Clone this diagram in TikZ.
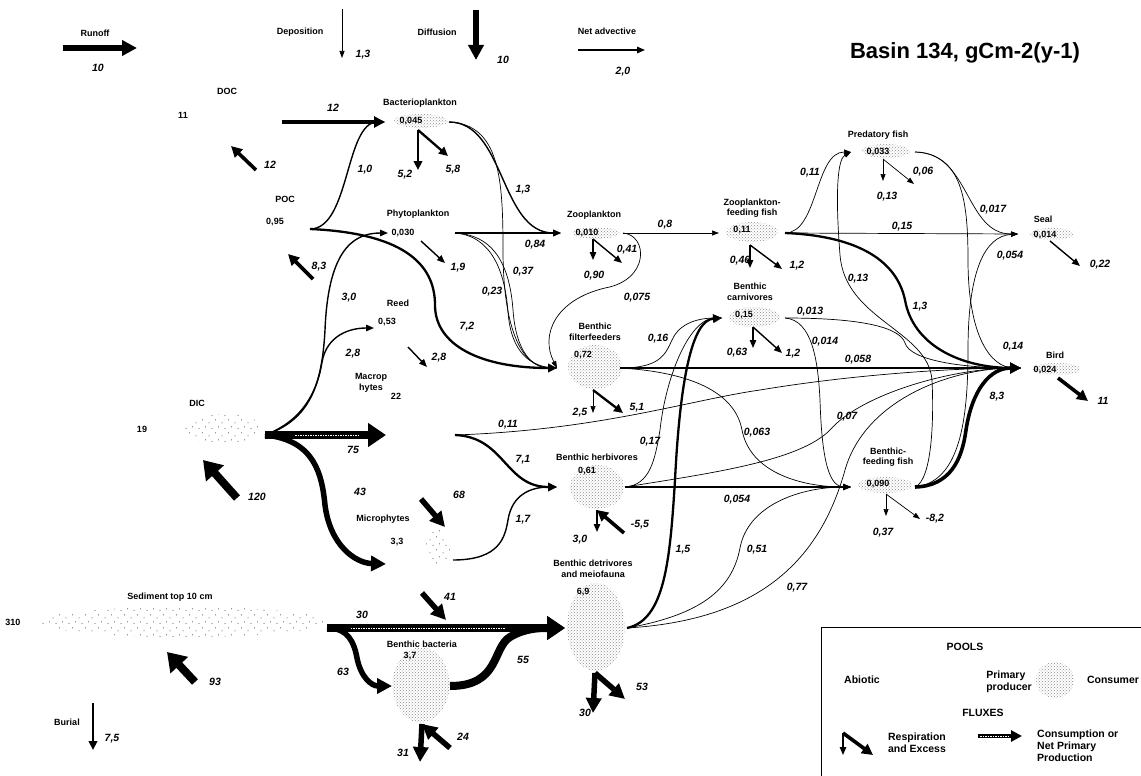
\documentclass[tikz,border=0pt]{standalone}
\usepackage{fontspec}
\setmainfont{Liberation Sans}
\usetikzlibrary{arrows.meta,shapes.geometric,patterns,calc}
\pgfdeclarepatternformonly{sparse dots}{\pgfqpoint{-1pt}{-1pt}}{\pgfqpoint{13pt}{13pt}}{\pgfqpoint{13pt}{13pt}}{%
  \pgfpathcircle{\pgfqpoint{1pt}{2pt}}{0.5pt}%
  \pgfpathcircle{\pgfqpoint{7.5pt}{5pt}}{0.5pt}%
  \pgfpathcircle{\pgfqpoint{4pt}{9.5pt}}{0.5pt}%
  \pgfpathcircle{\pgfqpoint{10.5pt}{11pt}}{0.5pt}%
  \pgfusepath{fill}}
\begin{document}
\begin{tikzpicture}[x=1pt,y=-1pt]
	\tikzstyle{lbl}=[font=\fontsize{9}{10.5}\selectfont\bfseries, align=center, inner sep=0pt]
	\tikzstyle{val}=[font=\fontsize{9}{10.5}\selectfont\bfseries, inner sep=0pt]
	\tikzstyle{key}=[font=\fontsize{10.5}{12}\selectfont\bfseries, align=left, inner sep=0pt]
	\tikzstyle{flx}=[font=\fontsize{10.5}{12}\selectfont\bfseries\itshape, inner sep=0pt]
	\tikzstyle{cons}=[ellipse, inner sep=0pt, pattern=crosshatch dots, pattern color=black!45]
	\tikzstyle{abio}=[ellipse, inner sep=0pt, pattern=sparse dots, pattern color=black!80]
	\tikzstyle{f0}=[line width=0.7pt, -{Triangle[length=7pt,width=5pt]}]
	\tikzstyle{f1}=[line width=1.4pt, -{Triangle[length=8pt,width=6.5pt]}]
	\tikzstyle{f2}=[line width=2.3pt, -{Triangle[length=9pt,width=8.5pt]}]
	\tikzstyle{f3}=[line width=3.6pt, -{Triangle[length=11pt,width=11pt]}]
	\tikzstyle{f4}=[line width=5.5pt, -{Triangle[length=15pt,width=15pt]}]
	\tikzstyle{f5}=[line width=8pt, -{Triangle[length=18pt,width=23pt]}]
	\tikzstyle{streak}=[white, line width=0.9pt, dash pattern=on 1.5pt off 1pt]

	\useasboundingbox (0,0) rectangle (1141,776);

	% external fluxes
	\node[lbl] (runoff) at (95,33) {Runoff};
	\coordinate (runoff-a) at (63,48);
	\coordinate (runoff-b) at (137,48);
	\node[lbl] (dep) at (300,32) {Deposition};
	\coordinate (dep-a) at (342,9);
	\coordinate (dep-b) at (342,58);
	\node[lbl] (dif) at (437,32) {Diffusion};
	\coordinate (dif-a) at (476,10);
	\coordinate (dif-b) at (476,60);
	\node[lbl] (adv) at (607,31) {Net advective};
	\coordinate (adv-a) at (578,50);
	\coordinate (adv-b) at (645,50);
	\node[lbl] (burial) at (67,722) {Burial};
	\coordinate (burial-a) at (93,703);
	\coordinate (burial-b) at (93,750);
	\node[font=\fontsize{22}{24}\selectfont\bfseries] (title) at (965,53) {Basin 134, gCm-2(y-1)};

	% abiotic pools
	\node[lbl] (doc) at (227,91) {DOC};
	\node[val] (doc-val) at (183,115) {11};
	\node[lbl] (poc) at (285,199) {POC};
	\node[val] (poc-val) at (275,222) {0,95};
	\node[abio, minimum width=80, minimum height=30] (dic) at (223,429) {};
	\node[lbl] (dic-lbl) at (197,403) {DIC};
	\node[val] (dic-val) at (142,429) {19};
	\node[abio, minimum width=290, minimum height=30] (sed) at (184,622) {};
	\node[lbl] (sed-lbl) at (170,597) {Sediment top 10 cm};
	\node[val] (sed-val) at (13,622) {310};

	% primary producers
	\node[lbl] (phy-lbl) at (418,214) {Phytoplankton};
	\node[val] (phy-val) at (403,233) {0,030};
	\node[lbl] (reed-lbl) at (398,303) {Reed};
	\node[val] (reed-val) at (387,322) {0,53};
	\node[lbl] (mac-lbl) at (371,383) {Macrop\\hytes};
	\node[val] (mac-val) at (396,396) {22};
	\node[abio, minimum width=24, minimum height=36] (mic) at (438,548) {};
	\node[lbl] (mic-lbl) at (383,519) {Microphytes};
	\node[val] (mic-val) at (397,542) {3,3};

	% consumers
	\node[cons, minimum width=54, minimum height=14] (bact) at (421,121) {};
	\node[lbl] (bact-lbl) at (420,103) {Bacterioplankton};
	\node[val] (bact-val) at (411,121) {0,045};
	\node[cons, minimum width=46, minimum height=12] (zoo) at (596,233) {};
	\node[lbl] (zoo-lbl) at (594,215) {Zooplankton};
	\node[val] (zoo-val) at (587,233) {0,010};
	\node[cons, minimum width=52, minimum height=20] (zff) at (752,232) {};
	\node[lbl] (zff-lbl) at (752,208) {Zooplankton-\\feeding fish};
	\node[val] (zff-val) at (742,230) {0,11};
	\node[cons, minimum width=48, minimum height=14] (pred) at (886,151) {};
	\node[lbl] (pred-lbl) at (878,135) {Predatory fish};
	\node[val] (pred-val) at (878,152) {0,033};
	\node[cons, minimum width=44, minimum height=12] (seal) at (1052,234) {};
	\node[lbl] (seal-lbl) at (1043,219) {Seal};
	\node[val] (seal-val) at (1045,235) {0,014};
	\node[cons, minimum width=48, minimum height=12] (bird) at (1057,369) {};
	\node[lbl] (bird-lbl) at (1055,355) {Bird};
	\node[val] (bird-val) at (1045,370) {0,024};
	\node[cons, minimum width=52, minimum height=20] (carn) at (754,317) {};
	\node[lbl] (carn-lbl) at (750,292) {Benthic\\carnivores};
	\node[val] (carn-val) at (744,315) {0,15};
	\node[cons, minimum width=54, minimum height=44] (filt) at (595,367) {};
	\node[lbl] (filt-lbl) at (595,332) {Benthic\\filterfeeders};
	\node[val] (filt-val) at (583,355) {0,72};
	\node[cons, minimum width=54, minimum height=44] (herb) at (597,487) {};
	\node[lbl] (herb-lbl) at (597,457) {Benthic herbivores};
	\node[val] (herb-val) at (587,471) {0,61};
	\node[cons, minimum width=58, minimum height=88] (det) at (596,627) {};
	\node[lbl] (det-lbl) at (593,569) {Benthic detrivores\\and meiofauna};
	\node[val] (det-val) at (583,592) {6,9};
	\node[cons, minimum width=54, minimum height=16] (bff) at (885,485) {};
	\node[lbl] (bff-lbl) at (888,457) {Benthic-\\feeding fish};
	\node[val] (bff-val) at (878,484) {0,090};
	\node[cons, minimum width=57, minimum height=75] (bb) at (421,685) {};
	\node[lbl] (bb-lbl) at (422,644) {Benthic bacteria};
	\node[val] (bb-val) at (410,656) {3,7};

	% flux end points
	\coordinate (doc-o) at (282,122);
	\coordinate (doc-r) at (231,146);
	\coordinate (poc-o) at (310,229);
	\coordinate (poc-r) at (313,279);
	\coordinate (dic-o) at (265,435);
	\coordinate (dic-r) at (203,460);
	\coordinate (sed-o) at (327,628);
	\coordinate (sed-r) at (167,652);
	\coordinate (bact-i) at (385,122);
	\coordinate (bact-o) at (449,122);
	\coordinate (bact-r) at (418,130);
	\coordinate (phy-i) at (388,233);
	\coordinate (phy-o) at (455,233);
	\coordinate (phy-r) at (421,241);
	\coordinate (reed-i) at (374,328);
	\coordinate (reed-r) at (408,347);
	\coordinate (mac-i) at (386,435);
	\coordinate (mac-o) at (455,435);
	\coordinate (mic-i) at (386,564);
	\coordinate (mic-o) at (453,560);
	\coordinate (mic-r) at (445,527);
	\coordinate (mic-x) at (422,593);
	\coordinate (zoo-i) at (561,233);
	\coordinate (zoo-o) at (623,233);
	\coordinate (zoo-r) at (593,239);
	\coordinate (zff-i) at (719,233);
	\coordinate (zff-o) at (785,233);
	\coordinate (zff-r) at (750,245);
	\coordinate (pred-i) at (851,152);
	\coordinate (pred-o) at (915,152);
	\coordinate (pred-r) at (883,159);
	\coordinate (seal-i) at (1018,234);
	\coordinate (seal-r) at (1050,241);
	\coordinate (bird-i) at (1021,368);
	\coordinate (bird-r) at (1058,378);
	\coordinate (carn-i) at (722,318);
	\coordinate (carn-o) at (785,318);
	\coordinate (carn-r) at (753,327);
	\coordinate (filt-i) at (557,368);
	\coordinate (filt-o) at (620,368);
	\coordinate (filt-r) at (593,390);
	\coordinate (herb-i) at (557,487);
	\coordinate (herb-o) at (625,487);
	\coordinate (herb-r) at (597,510);
	\coordinate (det-i) at (565,628);
	\coordinate (det-o) at (627,628);
	\coordinate (det-r) at (595,673);
	\coordinate (bff-i) at (851,487);
	\coordinate (bff-o) at (915,487);
	\coordinate (bff-r) at (886,494);
	\coordinate (bb-i) at (392,686);
	\coordinate (bb-o) at (450,686);
	\coordinate (bb-r) at (422,724);

	% external arrows
	\draw[f4] (runoff-a) -- (runoff-b);
	\draw[f0] (dep-a) -- (dep-b);
	\draw[f4] (dif-a) -- (dif-b);
	\draw[f1] (adv-a) -- (adv-b);
	\draw[f2] (burial-a) -- (burial-b);

	% DOC, POC
	\draw[f3] (doc-o) -- (bact-i);
	\draw[f3] ($(doc-r)+(25,24)$) -- (doc-r);
	\draw[f1] (poc-o) .. controls (350,229) and (345,122) .. (bact-i);
	\draw[f2] (poc-o) .. controls (400,233) and (435,262) .. (435,305) .. controls (435,345) and (480,368) .. (filt-i);
	\draw[f3] (poc-r) -- ++(-25,-25);

	% plankton
	\draw[f2] (bact-r) -- ++(0,40);
	\draw[f2] (bact-r) -- ++(30,26);
	\draw[f1] (bact-o) .. controls (505,122) and (500,233) .. (zoo-i);
	\draw[f0] (bact-o) .. controls (500,124) and (503,180) .. (503,250) .. controls (503,325) and (520,368) .. (filt-i);
	\draw[f1] (phy-o) -- (zoo-i);
	\draw[f0] (phy-o) .. controls (497,235) and (510,270) .. (513,310) .. controls (516,352) and (532,368) .. (filt-i);
	\draw[line width=0.7pt] (phy-o) .. controls (492,236) and (505,272) .. (508,312) .. controls (511,352) and (530,368) .. (filt-i);
	\draw[f1] (phy-r) -- ++(24,22);
	\draw[f1] (zoo-r) -- ++(0,21);
	\draw[f1] (zoo-r) -- ++(29,24);
	\draw[f0] (zoo-o) -- (zff-i);
	\draw[f0] (zoo-o) .. controls (648,235) and (650,280) .. (605,288) .. controls (555,300) and (540,335) .. (filt-i);

	% pelagic fish, seal, bird
	\draw[f1] (zff-r) -- ++(0,23);
	\draw[f1] (zff-r) -- ++(32,24);
	\draw[f0] (zff-o) .. controls (818,233) and (815,152) .. (pred-i);
	\draw[f0] (zff-o) -- (seal-i);
	\draw[f2] (zff-o) .. controls (860,236) and (897,262) .. (905,300) .. controls (913,345) and (960,368) .. (bird-i);
	\draw[f0] (pred-r) -- ++(0,22);
	\draw[f0] (pred-r) -- ++(31,25);
	\draw[f0] (pred-o) .. controls (970,152) and (965,234) .. (seal-i);
	\draw[f0] (pred-o) .. controls (962,154) and (968,200) .. (968,260) .. controls (968,335) and (990,368) .. (bird-i);
	\draw[f1] (seal-r) -- ++(30,25);
	\draw[f3] (bird-r) -- ++(30,23);

	% benthic fish
	\draw[f0] (bff-r) -- ++(0,22);
	\draw[f0] (bff-r) -- ++(34,25);
	\draw[f0] (bff-o) .. controls (932,480) and (934,420) .. (932,380) .. controls (928,330) and (845,320) .. (840,255) .. controls (836,205) and (836,160) .. (pred-i);
	\draw[f0] (bff-o) .. controls (960,482) and (968,420) .. (968,350) .. controls (968,270) and (985,236) .. (seal-i);
	\draw[f3] (bff-o) .. controls (950,486) and (962,460) .. (966,430) .. controls (972,390) and (990,368) .. (bird-i);

	% benthic carnivores, filterfeeders, herbivores
	\draw[f1] (carn-r) -- ++(0,21);
	\draw[f1] (carn-r) -- ++(29,26);
	\draw[f0] (carn-o) .. controls (865,318) and (900,328) .. (905,343) .. controls (910,360) and (960,368) .. (bird-i);
	\draw[f0] (carn-o) .. controls (812,320) and (818,360) .. (820,400) .. controls (822,465) and (830,487) .. (bff-i);
	\draw[f0] (filt-r) -- ++(0,23);
	\draw[f2] (filt-r) -- ++(30,23);
	\draw[f0] (filt-o) .. controls (660,368) and (665,355) .. (672,340) .. controls (680,322) and (700,318) .. (carn-i);
	\draw[f1] (filt-o) -- (bird-i);
	\draw[f0] (filt-o) .. controls (690,372) and (735,392) .. (742,430) .. controls (750,472) and (800,487) .. (bff-i);
	\draw[f1] (herb-r) -- ++(0,22);
	\draw[f3] ($(herb-r)+(27,23)$) -- (herb-r);
	\draw[f0] (herb-o) .. controls (650,485) and (655,460) .. (660,430) .. controls (666,375) and (690,318) .. (carn-i);
	\draw[f1] (herb-o) -- (bff-i);
	\draw[f0] (herb-o) .. controls (720,472) and (800,460) .. (830,430) .. controls (860,395) and (950,368) .. (bird-i);

	% detrivores
	\draw[f4] (det-r) -- ++(-2,40);
	\draw[f4] (det-r) -- ++(30,26);
	\draw[f2] (det-o) .. controls (665,620) and (670,560) .. (675,480) .. controls (680,380) and (692,320) .. (carn-i);
	\draw[f0] (det-o) .. controls (700,615) and (732,590) .. (740,548) .. controls (748,505) and (800,487) .. (bff-i);
	\draw[f0] (det-o) .. controls (760,620) and (820,560) .. (845,470) .. controls (865,400) and (950,368) .. (bird-i);

	% DIC and primary producers
	\draw[f5] ($(dic-r)+(34,38)$) -- (dic-r);
	\draw[f1] (dic-o) .. controls (310,420) and (322,385) .. (325,330) .. controls (328,255) and (350,233) .. (phy-i);
	\draw[f1] (dic-o) .. controls (305,420) and (318,388) .. (322,362) .. controls (327,335) and (350,328) .. (reed-i);
	\draw[f5] (dic-o) -- (mac-i);
	\draw[streak] ($(dic-o)!0.25!(mac-i)$) -- ($(dic-o)!0.78!(mac-i)$);
	\draw[f4] (dic-o) .. controls (315,440) and (322,475) .. (325,505) .. controls (330,545) and (355,563) .. (mic-i);
	\draw[f1] (reed-r) -- ++(19,20);
	\draw[f2] (mac-o) .. controls (505,437) and (505,487) .. (herb-i);
	\draw[f0] (mac-o) .. controls (600,430) and (690,400) .. (760,390) .. controls (850,375) and (950,368) .. (bird-i);
	\draw[f4] ($(mic-r)+(-24,-28)$) -- (mic-r);
	\draw[f4] (mic-x) -- ++(24,27);
	\draw[f1] (mic-o) .. controls (500,560) and (505,537) .. (508,520) .. controls (512,495) and (530,487) .. (herb-i);

	% sediment and benthic bacteria
	\draw[f5] ($(sed-r)+(28,30)$) -- (sed-r);
	\draw[f5] (sed-o) -- (det-i);
	\draw[streak] ($(sed-o)!0.1!(det-i)$) -- ($(sed-o)!0.75!(det-i)$);
	\draw[f4] (sed-o) .. controls (348,628) and (354,642) .. (357,658) .. controls (361,678) and (372,686) .. (bb-i);
	\draw[f5] (bb-o) .. controls (500,686) and (492,648) .. (510,637) .. controls (525,628) and (540,628) .. (det-i);
	\draw[f4] (bb-r) -- ++(-2,38);
	\draw[f4] ($(bb-r)+(28,24)$) -- (bb-r);

	% flux values
	\node[flx] (n-runoff)   at (98,68)    {10};
	\node[flx] (n-dep)      at (363,55)   {1,3};
	\node[flx] (n-dif)      at (503,60)   {10};
	\node[flx] (n-adv)      at (623,72)   {2,0};
	\node[flx] (n-burial)   at (112,739)  {7,5};
	\node[flx] (n-docbact)  at (333,108)  {12};
	\node[flx] (n-docr)     at (270,165)  {12};
	\node[flx] (n-pocbact)  at (365,170)  {1,0};
	\node[flx] (n-bactr1)   at (405,175)  {5,2};
	\node[flx] (n-bactr2)   at (453,170)  {5,8};
	\node[flx] (n-bactzoo)  at (523,190)  {1,3};
	\node[flx] (n-phyzoo)   at (535,245)  {0,84};
	\node[flx] (n-zoor2)    at (627,250)  {0,41};
	\node[flx] (n-zoor1)    at (594,276)  {0,90};
	\node[flx] (n-zoozff)   at (665,225)  {0,8};
	\node[flx] (n-zffr1)    at (740,261)  {0,46};
	\node[flx] (n-zffr2)    at (797,266)  {1,2};
	\node[flx] (n-zffpred)  at (810,173)  {0,11};
	\node[flx] (n-predr1)   at (887,197)  {0,13};
	\node[flx] (n-predr2)   at (923,172)  {0,06};
	\node[flx] (n-predseal) at (993,210)  {0,017};
	\node[flx] (n-zffseal)  at (902,227)  {0,15};
	\node[flx] (n-bffseal)  at (1010,256) {0,054};
	\node[flx] (n-sealr)    at (1100,265) {0,22};
	\node[flx] (n-pocr)     at (319,267)  {8,3};
	\node[flx] (n-phyr)     at (458,268)  {1,9};
	\node[flx] (n-dicphy)   at (349,298)  {3,0};
	\node[flx] (n-bactfilt) at (523,272)  {0,37};
	\node[flx] (n-phyfilt)  at (492,292)  {0,23};
	\node[flx] (n-zoofilt)  at (637,298)  {0,075};
	\node[flx] (n-pocfilt)  at (467,327)  {7,2};
	\node[flx] (n-dicreed)  at (353,354)  {2,8};
	\node[flx] (n-reedr)    at (439,358)  {2,8};
	\node[flx] (n-filtcarn) at (658,339)  {0,16};
	\node[flx] (n-bffpred)  at (858,279)  {0,13};
	\node[flx] (n-zffbird)  at (920,307)  {1,3};
	\node[flx] (n-carnbird) at (810,312)  {0,013};
	\node[flx] (n-carnbff)  at (825,342)  {0,014};
	\node[flx] (n-carnr1)   at (737,353)  {0,63};
	\node[flx] (n-carnr2)   at (793,354)  {1,2};
	\node[flx] (n-filtbird) at (858,360)  {0,058};
	\node[flx] (n-predbird) at (1013,347) {0,14};
	\node[flx] (n-birdr)    at (1103,401) {11};
	\node[flx] (n-bffbird)  at (997,397)  {8,3};
	\node[flx] (n-macbird)  at (508,425)  {0,11};
	\node[flx] (n-filtr1)   at (580,413)  {2,5};
	\node[flx] (n-filtr2)   at (637,408)  {5,1};
	\node[flx] (n-filtbff)  at (757,433)  {0,063};
	\node[flx] (n-herbbird) at (847,417)  {0,07};
	\node[flx] (n-dicmac)   at (353,450)  {75};
	\node[flx] (n-macherb)  at (523,460)  {7,1};
	\node[flx] (n-herbcarn) at (650,442)  {0,17};
	\node[flx] (n-dicmic)   at (360,492)  {43};
	\node[flx] (n-micr)     at (459,495)  {68};
	\node[flx] (n-dicr)     at (257,497)  {120};
	\node[flx] (n-herbbff)  at (737,500)  {0,054};
	\node[flx] (n-bffr2)    at (935,519)  {-8,2};
	\node[flx] (n-bffr1)    at (883,533)  {0,37};
	\node[flx] (n-micherb)  at (523,520)  {1,7};
	\node[flx] (n-herbr1)   at (580,540)  {3,0};
	\node[flx] (n-herbr2)   at (640,525)  {-5,5};
	\node[flx] (n-detcarn)  at (683,550)  {1,5};
	\node[flx] (n-detbff)   at (757,550)  {0,51};
	\node[flx] (n-detbird)  at (797,588)  {0,77};
	\node[flx] (n-micx)     at (450,597)  {41};
	\node[flx] (n-seddet)   at (362,615)  {30};
	\node[flx] (n-sedbb)    at (343,672)  {63};
	\node[flx] (n-bbdet)    at (523,660)  {55};
	\node[flx] (n-detr2)    at (642,687)  {53};
	\node[flx] (n-detr1)    at (585,713)  {30};
	\node[flx] (n-bbr2)     at (463,737)  {24};
	\node[flx] (n-bbr1)     at (403,753)  {31};
	\node[flx] (n-sedr)     at (215,682)  {93};

	% legend
	\draw[line width=0.8pt] (821,627) rectangle (1150,790);
	\node[key] (pools) at (965,647) {POOLS};
	\node[key] (abiotic) at (862,680) {Abiotic};
	\node[key] (primary) at (1009,682) {Primary\\producer};
	\node[cons, minimum width=38, minimum height=36] (cons-key) at (1055,680) {};
	\node[key] (consumer) at (1113,680) {Consumer};
	\node[key] (fluxes) at (983,713) {FLUXES};
	\coordinate (key-r) at (843,733);
	\coordinate (key-a) at (978,736);
	\coordinate (key-b) at (1022,736);
	\draw[f1] (key-r) -- ++(0,22);
	\draw[f3] (key-r) -- ++(30,22);
	\node[key] (resp-key) at (917,743) {Respiration\\and Excess};
	\draw[f3] (key-a) -- (key-b);
	\draw[streak] ($(key-a)+(2,0)$) -- ($(key-b)+(-12,0)$);
	\node[key, anchor=west] (cons-txt) at (1037,746) {Consumption or\\Net Primary\\Production};
\end{tikzpicture}
\end{document}
